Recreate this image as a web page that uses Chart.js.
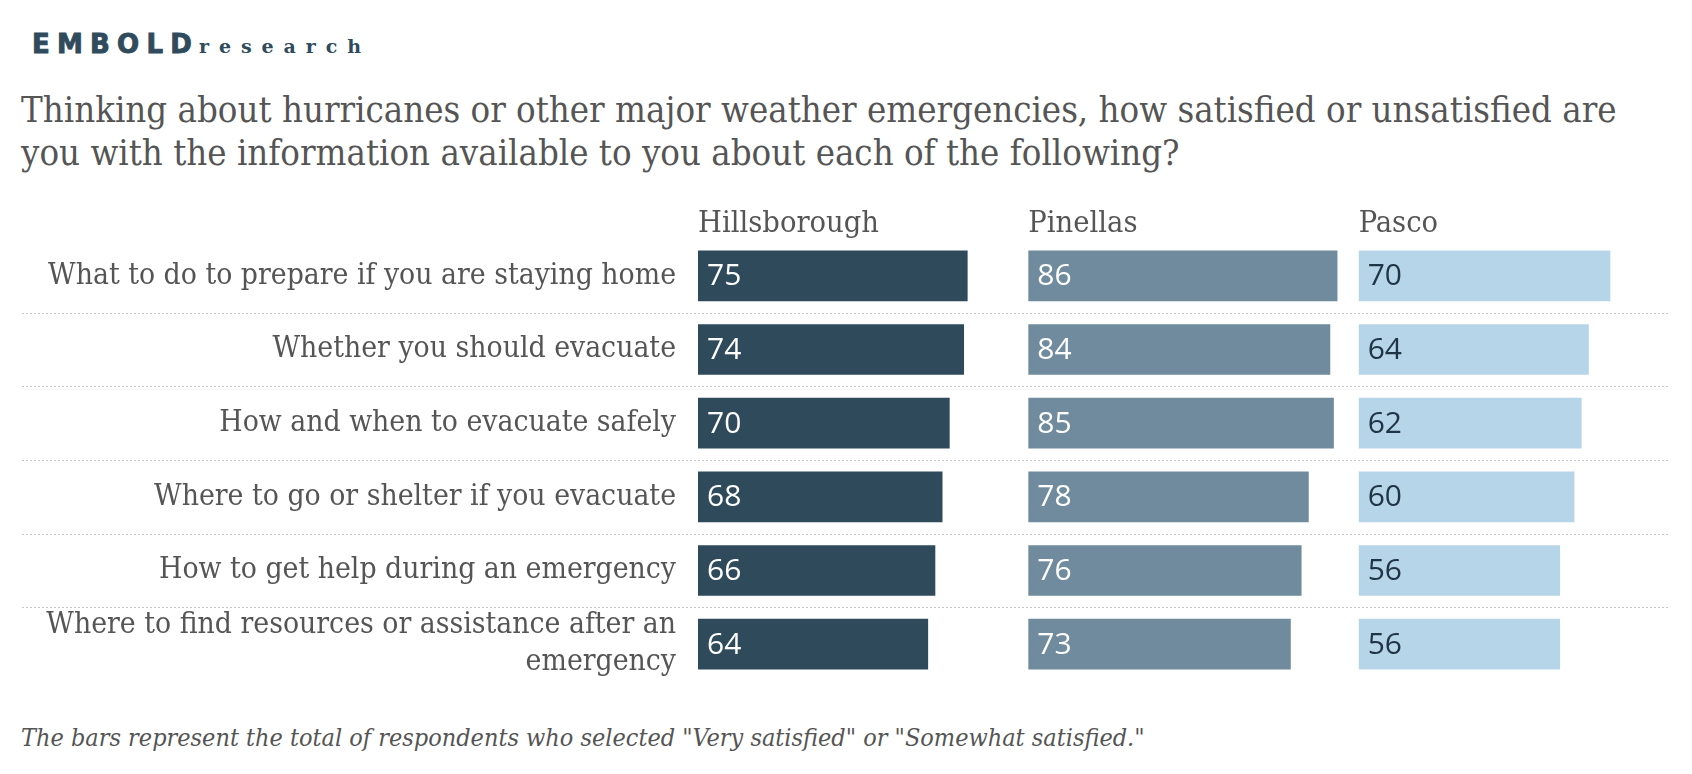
<!DOCTYPE html>
<html><head><meta charset="utf-8">
<script src="https://cdn.jsdelivr.net/npm/chart.js@4"></script>
<style>
html,body{margin:0;padding:0;background:#fff;}
#wrap{position:relative;width:1692px;height:774px;overflow:hidden;background:#fff;}
#c{position:absolute;left:0;top:0;}
.txt{position:absolute;white-space:nowrap;color:#555;}
#logo{position:absolute;left:32px;top:26px;white-space:nowrap;color:#2f4b5c;line-height:36px;}
#em{font-family:"DejaVu Sans",Lato,sans-serif;font-weight:bold;font-size:26px;-webkit-text-stroke:0.9px #2f4b5c;}
#re{font-family:"DejaVu Serif","Liberation Serif",serif;font-weight:bold;font-size:19px;}
#title{left:21px;top:88px;line-height:43px;}
#foot{left:21px;top:722px;line-height:32px;font-style:italic;}
</style></head>
<body><div id="wrap">
<div id="logo"><span id="em">EMBOLD</span><span id="re">research</span></div>
<div id="title" class="txt"><span id="t1">Thinking about hurricanes or other major weather emergencies, how satisfied or unsatisfied are</span><br><span id="t2">you with the information available to you about each of the following?</span></div>
<div id="foot" class="txt">The bars represent the total of respondents who selected "Very satisfied" or "Somewhat satisfied."</div>
<canvas id="c" width="1692" height="774"></canvas>
</div>
<script>
// ---- data ----
const categories = [
  'What to do to prepare if you are staying home',
  'Whether you should evacuate',
  'How and when to evacuate safely',
  'Where to go or shelter if you evacuate',
  'How to get help during an emergency',
  ['Where to find resources or assistance after an', 'emergency']
];
const seriesNames = ['Hillsborough', 'Pinellas', 'Pasco'];
const hillsborough = [75, 74, 70, 68, 66, 64];
const pinellas = [86, 84, 85, 78, 76, 73];
const pasco = [70, 64, 62, 60, 56, 56];

// ---- styles ----
const SERIF = '"DejaVu Serif Condensed", "DejaVu Serif", serif';
const SANS = '"Open Sans", "Noto Sans", sans-serif';
const colors = ['#2e4a5b', '#6f8b9d', '#b7d5e9'];
const valueColors = ['#ffffff', '#ffffff', '#1f3444'];
const textGrey = '#555555';

const mctx = document.createElement('canvas').getContext('2d');
function fitSize(text, target, style, family) {
  mctx.font = style + ' 100px ' + family;
  return 100 * target / mctx.measureText(text).width;
}
function fitSpacing(el, target) {
  el.style.letterSpacing = '0px';
  const w = el.getBoundingClientRect().width;
  const n = el.textContent.length;
  el.style.letterSpacing = ((target - w) / n) + 'px';
}

const labelSize = fitSize('What to do to prepare if you are staying home', 628, '', SERIF);
const headerSize = fitSize('Hillsborough', 181, '', SERIF);
const titleSize = fitSize(document.getElementById('t1').textContent, 1596, '', SERIF);
const footSize = fitSize(document.getElementById('foot').textContent, 1124, 'italic', SERIF);

const titleEl = document.getElementById('title');
titleEl.style.fontFamily = SERIF; titleEl.style.fontSize = titleSize + 'px';
const footEl = document.getElementById('foot');
footEl.style.fontFamily = SERIF; footEl.style.fontSize = footSize + 'px';
fitSpacing(document.getElementById('em'), 167);
fitSpacing(document.getElementById('re'), 172);

function colAxis(name, order) {
  return {
    type: 'linear', position: 'top', stack: 'cols', stackWeight: 1, weight: order,
    min: 0, max: 92,
    ticks: { display: false },
    grid: { display: false, drawTicks: false },
    border: { display: false },
    title: { display: true, text: name, align: 'start', color: textGrey, padding: { top: 4, bottom: 0 },
             font: { family: SERIF, size: headerSize, lineHeight: '29px' } }
  };
}

const separatorPlugin = {
  id: 'separators',
  beforeDatasetsDraw(chart) {
    const y = chart.scales.y, ctx = chart.ctx;
    ctx.save();
    ctx.strokeStyle = '#c6c6c6'; ctx.lineWidth = 1; ctx.setLineDash([2, 2]);
    for (let i = 1; i < categories.length; i++) {
      const p = Math.round((y.getPixelForValue(i - 1) + y.getPixelForValue(i)) / 2) + 0.5;
      ctx.beginPath(); ctx.moveTo(22, p); ctx.lineTo(1670, p); ctx.stroke();
    }
    ctx.restore();
  }
};

const valueLabelPlugin = {
  id: 'valueLabels',
  afterDatasetsDraw(chart) {
    const ctx = chart.ctx;
    ctx.save();
    ctx.font = '400 30px ' + SANS;
    ctx.textAlign = 'left'; ctx.textBaseline = 'middle';
    chart.data.datasets.forEach((ds, di) => {
      const meta = chart.getDatasetMeta(di);
      ctx.fillStyle = valueColors[di];
      meta.data.forEach((bar, i) => {
        ctx.fillText(String(ds.data[i]), bar.base + 9, bar.y + 1);
      });
    });
    ctx.restore();
  }
};

const seriesData = [hillsborough, pinellas, pasco];
new Chart(document.getElementById('c'), {
  type: 'bar',
  data: {
    labels: categories,
    datasets: seriesNames.map((n, k) => ({
      label: n, data: seriesData[k], xAxisID: 'x' + (k + 1),
      backgroundColor: colors[k], borderWidth: 0, grouped: false, barThickness: 50
    }))
  },
  options: {
    indexAxis: 'y', responsive: false, animation: false, devicePixelRatio: 1,
    layout: { padding: { left: 0, right: 3, top: 206, bottom: 93 } },
    plugins: { legend: { display: false }, tooltip: { enabled: false }, title: { display: false } },
    scales: {
      y: {
        type: 'category',
        grid: { display: false, drawTicks: false },
        border: { display: false },
        ticks: { autoSkip: false, padding: 22, color: textGrey,
                 font: { family: SERIF, size: labelSize, lineHeight: '37px' } },
        afterFit(s) { s.width = 698; }
      },
      x1: colAxis(seriesNames[0], 3),
      x2: colAxis(seriesNames[1], 2),
      x3: colAxis(seriesNames[2], 1)
    }
  },
  plugins: [separatorPlugin, valueLabelPlugin]
});
</script>
</body></html>
